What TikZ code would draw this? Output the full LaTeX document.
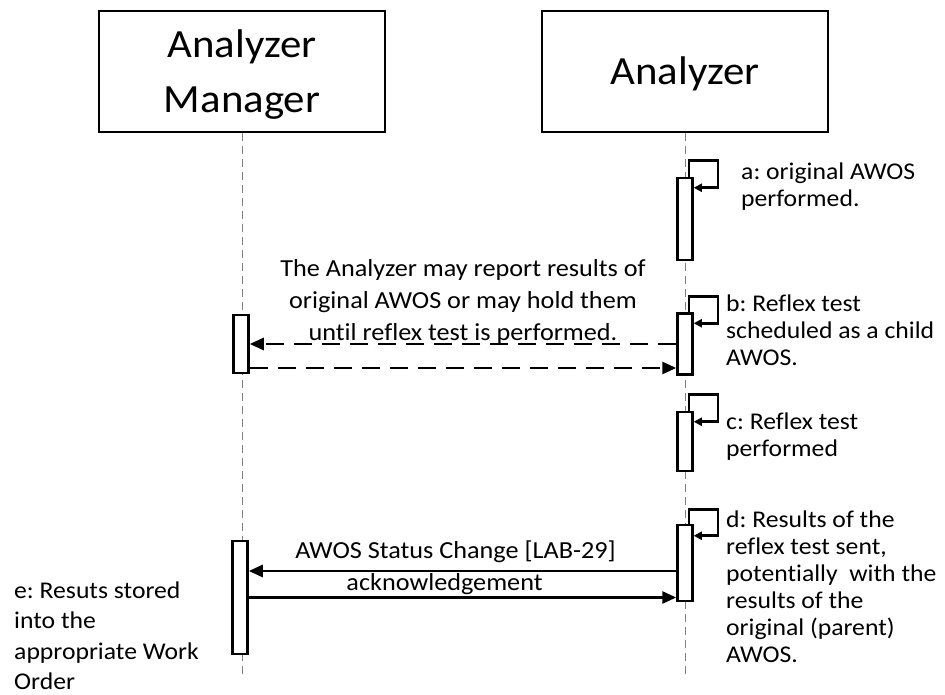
\documentclass[tikz,border=0pt]{standalone}
\usepackage{fontspec}
\setmainfont{Carlito}[FakeStretch=1.07, RawFeature=-liga]
\usetikzlibrary{arrows.meta}
\begin{document}
\frenchspacing
\begin{tikzpicture}[x=1pt,y=-1pt,
  actor/.style={draw, line width=2.5pt, minimum width=286pt, minimum height=121pt, align=center, inner sep=0pt,
    font=\fontsize{40}{55}\selectfont},
  lifeline/.style={draw=gray, line width=0.9pt, dash pattern=on 8pt off 5pt},
  act/.style={draw, fill=white, line width=2.5pt, minimum width=15pt, inner sep=0pt},
  msg/.style={line width=2.8pt, -{Triangle[length=14pt,width=12pt]}},
  dmsg/.style={msg, dash pattern=on 18pt off 10pt},
  selfloop/.style={line width=2.8pt, -{Triangle[length=8pt,width=8pt]}},
  lbl/.style={font=\fontsize{24}{27}\selectfont, align=left, inner sep=0pt},
  note/.style={font=\fontsize{24.5}{32}\selectfont, align=center, inner sep=0pt}]
\useasboundingbox[fill=white] (0,0) rectangle (945,695);

% actors
\node[actor] (AM) at (242,71.5) {};
\node[actor] (AN) at (685,71.5) {};
\node[font=\fontsize{40}{55}\selectfont, align=center, anchor=base] (AMt) at (242,113) {Analyzer\\Manager};
\node[font=\fontsize{40}{55}\selectfont, anchor=base] (ANt) at (685,85) {Analyzer};
\coordinate (AMend) at (242,678);
\coordinate (ANend) at (685,678);
\draw[lifeline] (AM.south) -- (AMend);
\draw[lifeline] (AN.south) -- (ANend);

% activation boxes
\node[act, minimum height=82pt] (A1) at (685,219) {};
\node[act, minimum height=61pt] (B2) at (685,344) {};
\node[act, minimum height=58pt] (B1) at (241,344) {};
\node[act, minimum height=59pt] (C1) at (685,441.5) {};
\node[act, minimum height=76pt] (D1) at (685,563) {};
\node[act, minimum height=113pt] (E1) at (240,597.5) {};

% self loops
\draw[selfloop] ([xshift=4pt]A1.north) -- ++(0,-16) -- ++(29,0) |- ([yshift=-11pt]A1.north east);
\draw[selfloop] ([xshift=4pt]B2.north) -- ++(0,-16) -- ++(29,0) |- ([yshift=-11pt]B2.north east);
\draw[selfloop] ([xshift=4pt]C1.north) -- ++(0,-16) -- ++(29,0) |- ([yshift=-11pt]C1.north east);
\draw[selfloop] ([xshift=4pt]D1.north) -- ++(0,-14) -- ++(29,0) |- ([yshift=-12pt]D1.north east);

% messages
\draw[dmsg] (B2.west) -- (B2.west -| B1.east);
\draw[dmsg] ([yshift=-24pt]B1.east) -- ([yshift=-24pt]B1.east -| B2.west);
\draw[msg] ([yshift=-8pt]D1.west) -- node[anchor=base, xshift=-7pt, yshift=13pt, lbl, font=\fontsize{24.5}{27}\selectfont]{AWOS Status Change [LAB-29]} ([yshift=-8pt]D1.west -| E1.east);
\draw[msg] (E1.east) -- node[anchor=base, xshift=-18pt, yshift=7pt, lbl, font=\fontsize{24.5}{27}\selectfont]{acknowledgement} (E1.east -| D1.west);

% note
\node[note, anchor=base] (N) at (463,340) {The Analyzer may report results of\\original AWOS or may hold them\\until reflex test is performed.};

% labels
\node[lbl, anchor=base west] (La) at (741,207) {a: original AWOS\\performed.};
\node[lbl, anchor=base west] (Lb) at (726,365) {b: Reflex test\\scheduled as a child\\AWOS.};
\node[lbl, anchor=base west] (Lc) at (726,456) {c: Reflex test\\performed};
\node[lbl, anchor=base west] (Ld) at (726,662) {d: Results of the\\reflex test sent,\\potentially\ \ with the\\results of the\\original (parent)\\AWOS.};
\node[lbl, anchor=base west, font=\fontsize{24}{30.5}\selectfont] (Le) at (14,689.5) {e: Resuts stored\\into the\\appropriate Work\\Order};
\end{tikzpicture}
\end{document}
